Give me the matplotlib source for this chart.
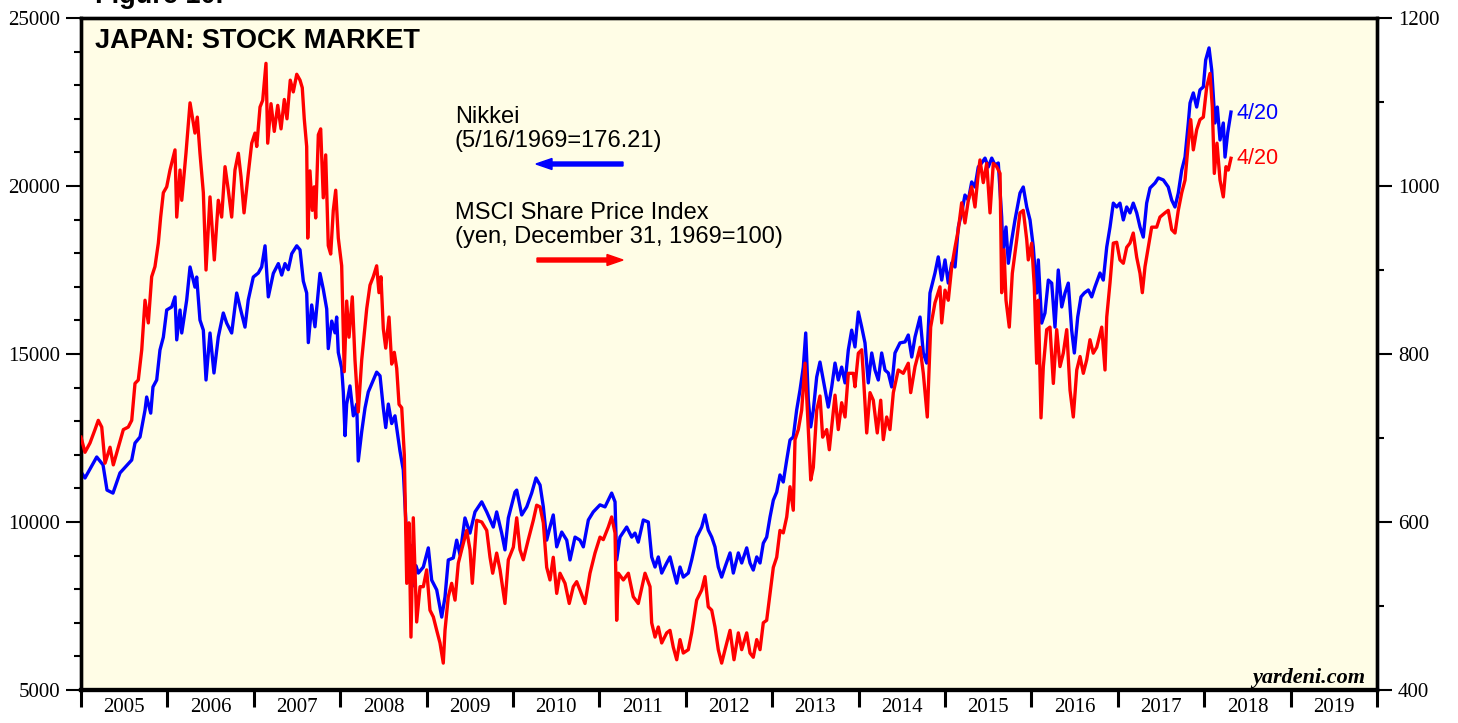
import numpy as np
import matplotlib
matplotlib.use("Agg")
import matplotlib.pyplot as plt
from matplotlib.ticker import MultipleLocator, FixedLocator, NullFormatter

# ---------------- data ----------------
nikkei_t = [
    2005.000, 2005.046, 2005.182, 2005.255, 2005.301, 2005.370, 2005.451, 2005.587, 2005.625, 2005.683,
    2005.741, 2005.760, 2005.807, 2005.833, 2005.876, 2005.914, 2005.953, 2005.992, 2006.050, 2006.088,
    2006.108, 2006.146, 2006.166, 2006.223, 2006.262, 2006.319, 2006.339, 2006.377, 2006.416, 2006.447,
    2006.493, 2006.539, 2006.589, 2006.647, 2006.686, 2006.744, 2006.802, 2006.840, 2006.898, 2006.936,
    2006.994, 2007.052, 2007.091, 2007.130, 2007.168, 2007.226, 2007.284, 2007.323, 2007.361, 2007.399,
    2007.439, 2007.497, 2007.535, 2007.573, 2007.612, 2007.631, 2007.670, 2007.708, 2007.766, 2007.804,
    2007.844, 2007.862, 2007.902, 2007.940, 2007.959, 2007.978, 2008.017, 2008.036, 2008.056, 2008.075,
    2008.113, 2008.152, 2008.191, 2008.209, 2008.249, 2008.287, 2008.325, 2008.365, 2008.422, 2008.461,
    2008.499, 2008.527, 2008.557, 2008.596, 2008.634, 2008.672, 2008.692, 2008.730, 2008.762, 2008.796,
    2008.819, 2008.843, 2008.877, 2008.904, 2008.962, 2009.020, 2009.059, 2009.117, 2009.175, 2009.213,
    2009.251, 2009.309, 2009.348, 2009.387, 2009.444, 2009.502, 2009.560, 2009.638, 2009.696, 2009.772,
    2009.811, 2009.869, 2009.907, 2009.946, 2010.023, 2010.043, 2010.101, 2010.159, 2010.216, 2010.266,
    2010.313, 2010.351, 2010.390, 2010.428, 2010.466, 2010.506, 2010.564, 2010.622, 2010.660, 2010.718,
    2010.775, 2010.814, 2010.872, 2010.929, 2011.007, 2011.065, 2011.142, 2011.181, 2011.200, 2011.238,
    2011.316, 2011.374, 2011.412, 2011.450, 2011.508, 2011.566, 2011.605, 2011.644, 2011.682, 2011.721,
    2011.779, 2011.817, 2011.855, 2011.895, 2011.933, 2011.971, 2012.029, 2012.068, 2012.126, 2012.184,
    2012.222, 2012.260, 2012.300, 2012.338, 2012.376, 2012.415, 2012.454, 2012.512, 2012.550, 2012.608,
    2012.647, 2012.705, 2012.743, 2012.781, 2012.821, 2012.859, 2012.897, 2012.936, 2012.975, 2013.013,
    2013.052, 2013.090, 2013.128, 2013.168, 2013.206, 2013.244, 2013.283, 2013.322, 2013.360, 2013.388,
    2013.418, 2013.446, 2013.476, 2013.515, 2013.553, 2013.591, 2013.649, 2013.689, 2013.727, 2013.765,
    2013.804, 2013.843, 2013.881, 2013.920, 2013.958, 2013.997, 2014.036, 2014.074, 2014.112, 2014.152,
    2014.190, 2014.228, 2014.267, 2014.306, 2014.344, 2014.383, 2014.421, 2014.479, 2014.537, 2014.575,
    2014.615, 2014.653, 2014.711, 2014.749, 2014.788, 2014.826, 2014.884, 2014.922, 2014.962, 2015.000,
    2015.038, 2015.078, 2015.116, 2015.154, 2015.193, 2015.231, 2015.270, 2015.309, 2015.347, 2015.385,
    2015.425, 2015.463, 2015.501, 2015.541, 2015.579, 2015.617, 2015.656, 2015.671, 2015.706, 2015.733,
    2015.772, 2015.810, 2015.868, 2015.906, 2015.946, 2015.984, 2016.022, 2016.061, 2016.080, 2016.119,
    2016.157, 2016.196, 2016.235, 2016.273, 2016.311, 2016.351, 2016.389, 2016.427, 2016.466, 2016.497,
    2016.536, 2016.574, 2016.612, 2016.659, 2016.698, 2016.736, 2016.794, 2016.832, 2016.872, 2016.910,
    2016.948, 2016.987, 2017.025, 2017.064, 2017.103, 2017.141, 2017.179, 2017.219, 2017.257, 2017.295,
    2017.334, 2017.373, 2017.431, 2017.469, 2017.527, 2017.584, 2017.624, 2017.662, 2017.700, 2017.740,
    2017.778, 2017.816, 2017.836, 2017.874, 2017.913, 2017.951, 2017.990, 2018.017, 2018.056, 2018.087,
    2018.125, 2018.152, 2018.183, 2018.221, 2018.241, 2018.272, 2018.310,
]
nikkei = [
    11490, 11310, 11935, 11700, 10950, 10860, 11460, 11845, 12350, 12530,
    13330, 13720, 13240, 14020, 14226, 15120, 15500, 16310, 16400, 16700,
    15420, 16310, 15625, 16600, 17590, 16990, 17290, 16010, 15710, 14226,
    15625, 14435, 15505, 16220, 15920, 15625, 16815, 16400, 15800, 16610,
    17290, 17410, 17590, 18220, 16700, 17400, 17690, 17350, 17690, 17510,
    17985, 18220, 18100, 17170, 16815, 15340, 16460, 15810, 17400, 16930,
    16340, 15160, 15980, 15630, 16100, 15045, 14580, 13870, 12570, 13510,
    14050, 13160, 13510, 11815, 12690, 13390, 13870, 14110, 14460, 14350,
    13390, 12810, 13510, 12930, 13160, 12460, 12110, 11550, 9900, 8400,
    9300, 8100, 8700, 8480, 8660, 9230, 8270, 7980, 7170, 7770,
    8870, 8930, 9460, 9020, 10120, 9670, 10300, 10600, 10300, 9850,
    10300, 9670, 9170, 10120, 10890, 10950, 10210, 10450, 10860, 11310,
    11100, 10450, 9460, 9850, 10210, 9260, 9700, 9460, 8870, 9550,
    9460, 9260, 10060, 10300, 10510, 10450, 10860, 10600, 8870, 9550,
    9850, 9550, 9670, 9400, 10060, 10000, 8960, 8660, 8960, 8480,
    8780, 8960, 8570, 8180, 8660, 8360, 8480, 8870, 9550, 9850,
    10210, 9760, 9550, 9260, 8660, 8360, 8660, 9080, 8480, 9080,
    8780, 9230, 8780, 8570, 8960, 8780, 9370, 9550, 10150, 10650,
    10890, 11400, 11190, 11845, 12440, 12530, 13330, 13930, 14610, 15625,
    13630, 12830, 13330, 14315, 14760, 14226, 13420, 14020, 14730, 14226,
    14610, 14140, 15120, 15710, 15210, 16250, 15800, 15330, 14140, 15030,
    14520, 14226, 15030, 14520, 14435, 14020, 15030, 15330, 15360, 15565,
    14910, 15505, 16100, 15030, 14730, 16815, 17410, 17890, 17200, 17800,
    17110, 17710, 17590, 18780, 19200, 19730, 19580, 20120, 19970, 20565,
    20685, 20830, 20565, 20830, 20625, 20685, 19080, 18000, 18780, 17700,
    18390, 18990, 19790, 19970, 19375, 18990, 18185, 16815, 17800, 15920,
    16220, 17200, 17110, 15800, 17500, 16400, 16815, 17110, 15710, 15030,
    16100, 16700, 16815, 16905, 16700, 17000, 17410, 17200, 18185, 18780,
    19490, 19375, 19490, 18990, 19375, 19200, 19490, 19200, 18780, 18480,
    19490, 19940, 20090, 20240, 20180, 19970, 19580, 19375, 19790, 20475,
    20860, 21875, 22470, 22770, 22350, 22860, 22950, 23750, 24110, 23450,
    21875, 22350, 21370, 21875, 20860, 21580, 22200,
]

msci_t = [
    2005.000, 2005.046, 2005.104, 2005.162, 2005.200, 2005.240, 2005.278, 2005.336, 2005.374, 2005.432,
    2005.490, 2005.547, 2005.587, 2005.625, 2005.663, 2005.703, 2005.741, 2005.779, 2005.818, 2005.856,
    2005.895, 2005.922, 2005.953, 2005.992, 2006.030, 2006.088, 2006.108, 2006.146, 2006.166, 2006.215,
    2006.262, 2006.319, 2006.346, 2006.377, 2006.416, 2006.447, 2006.493, 2006.543, 2006.589, 2006.628,
    2006.667, 2006.705, 2006.744, 2006.782, 2006.821, 2006.852, 2006.887, 2006.936, 2006.976, 2007.014,
    2007.034, 2007.072, 2007.103, 2007.141, 2007.161, 2007.199, 2007.237, 2007.277, 2007.315, 2007.353,
    2007.384, 2007.422, 2007.457, 2007.497, 2007.535, 2007.561, 2007.584, 2007.612, 2007.624, 2007.650,
    2007.677, 2007.700, 2007.716, 2007.747, 2007.774, 2007.804, 2007.832, 2007.862, 2007.890, 2007.920,
    2007.948, 2007.978, 2008.017, 2008.047, 2008.075, 2008.102, 2008.140, 2008.171, 2008.209, 2008.249,
    2008.279, 2008.307, 2008.345, 2008.383, 2008.422, 2008.449, 2008.472, 2008.499, 2008.527, 2008.565,
    2008.596, 2008.626, 2008.654, 2008.681, 2008.712, 2008.742, 2008.770, 2008.796, 2008.819, 2008.846,
    2008.885, 2008.924, 2008.962, 2009.001, 2009.039, 2009.078, 2009.117, 2009.155, 2009.193, 2009.213,
    2009.251, 2009.290, 2009.329, 2009.367, 2009.406, 2009.464, 2009.502, 2009.529, 2009.580, 2009.638,
    2009.696, 2009.734, 2009.765, 2009.811, 2009.850, 2009.907, 2009.946, 2010.004, 2010.043, 2010.081,
    2010.119, 2010.177, 2010.235, 2010.274, 2010.313, 2010.351, 2010.390, 2010.428, 2010.466, 2010.506,
    2010.544, 2010.602, 2010.651, 2010.698, 2010.737, 2010.775, 2010.833, 2010.891, 2010.949, 2011.007,
    2011.045, 2011.103, 2011.142, 2011.181, 2011.200, 2011.219, 2011.277, 2011.335, 2011.392, 2011.450,
    2011.528, 2011.586, 2011.605, 2011.644, 2011.682, 2011.721, 2011.779, 2011.817, 2011.855, 2011.895,
    2011.933, 2011.971, 2012.029, 2012.068, 2012.126, 2012.184, 2012.222, 2012.260, 2012.300, 2012.338,
    2012.376, 2012.415, 2012.454, 2012.512, 2012.558, 2012.608, 2012.647, 2012.705, 2012.743, 2012.781,
    2012.821, 2012.859, 2012.897, 2012.936, 2012.975, 2013.013, 2013.052, 2013.090, 2013.128, 2013.168,
    2013.206, 2013.244, 2013.264, 2013.302, 2013.341, 2013.380, 2013.411, 2013.446, 2013.476, 2013.515,
    2013.553, 2013.584, 2013.631, 2013.661, 2013.727, 2013.765, 2013.804, 2013.843, 2013.881, 2013.939,
    2013.958, 2013.997, 2014.036, 2014.054, 2014.094, 2014.132, 2014.170, 2014.216, 2014.256, 2014.286,
    2014.325, 2014.363, 2014.402, 2014.459, 2014.517, 2014.575, 2014.603, 2014.653, 2014.711, 2014.749,
    2014.795, 2014.834, 2014.884, 2014.942, 2014.962, 2015.000, 2015.038, 2015.078, 2015.116, 2015.154,
    2015.193, 2015.231, 2015.270, 2015.309, 2015.347, 2015.385, 2015.405, 2015.443, 2015.483, 2015.521,
    2015.559, 2015.598, 2015.637, 2015.656, 2015.683, 2015.706, 2015.744, 2015.779, 2015.830, 2015.868,
    2015.906, 2015.946, 2015.964, 2016.003, 2016.034, 2016.061, 2016.080, 2016.111, 2016.138, 2016.177,
    2016.215, 2016.254, 2016.293, 2016.331, 2016.369, 2016.409, 2016.447, 2016.485, 2016.525, 2016.563,
    2016.601, 2016.640, 2016.678, 2016.716, 2016.756, 2016.814, 2016.852, 2016.872, 2016.910, 2016.948,
    2016.987, 2017.025, 2017.064, 2017.103, 2017.141, 2017.179, 2017.219, 2017.257, 2017.284, 2017.315,
    2017.353, 2017.392, 2017.450, 2017.488, 2017.546, 2017.584, 2017.624, 2017.662, 2017.700, 2017.740,
    2017.778, 2017.816, 2017.844, 2017.874, 2017.913, 2017.951, 2017.990, 2018.029, 2018.067, 2018.094,
    2018.117, 2018.148, 2018.183, 2018.221, 2018.252, 2018.279, 2018.310,
]
msci = [
    701, 683, 694, 710, 721, 713, 670, 689, 668, 689,
    710, 713, 721, 765, 769, 805, 864, 837, 892, 904,
    932, 963, 992, 999, 1019, 1043, 963, 1019, 983, 1039,
    1099, 1063, 1082, 1039, 992, 900, 987, 912, 983, 963,
    1023, 995, 963, 1019, 1039, 1011, 968, 1015, 1051, 1063,
    1047, 1094, 1102, 1146, 1051, 1098, 1065, 1096, 1068, 1103,
    1080, 1126, 1112, 1133, 1126, 1117, 1080, 1047, 938, 1018,
    971, 999, 962, 1061, 1068, 986, 1037, 929, 919, 971,
    995, 938, 905, 779, 863, 820, 868, 793, 731, 793,
    825, 854, 882, 892, 905, 873, 892, 830, 807, 844,
    788, 802, 783, 740, 736, 680, 527, 599, 463, 605,
    481, 523, 523, 543, 495, 487, 471, 456, 432, 471,
    511, 527, 507, 551, 567, 590, 567, 527, 602, 600,
    590, 558, 539, 563, 543, 503, 555, 570, 605, 567,
    555, 579, 602, 620, 618, 599, 546, 531, 558, 515,
    539, 527, 503, 523, 529, 519, 503, 539, 563, 582,
    579, 594, 606, 587, 483, 539, 531, 539, 511, 503,
    539, 523, 480, 463, 475, 456, 468, 471, 451, 436,
    460, 444, 448, 468, 507, 519, 535, 499, 495, 475,
    448, 432, 448, 471, 436, 468, 448, 468, 444, 439,
    460, 448, 480, 483, 515, 546, 558, 590, 587, 606,
    642, 614, 698, 710, 733, 789, 725, 650, 665, 733,
    750, 701, 710, 686, 751, 710, 742, 725, 777, 777,
    761, 801, 805, 777, 706, 754, 745, 706, 745, 698,
    725, 710, 754, 781, 777, 789, 754, 785, 808, 777,
    725, 832, 861, 880, 837, 876, 864, 904, 927, 948,
    980, 956, 983, 999, 975, 1015, 1031, 1004, 1027, 968,
    1027, 1023, 1015, 873, 924, 864, 832, 896, 936, 968,
    971, 936, 912, 932, 880, 789, 864, 724, 785, 829,
    832, 765, 829, 785, 801, 829, 757, 725, 781, 797,
    777, 793, 817, 801, 808, 832, 781, 844, 885, 932,
    933, 912, 908, 927, 932, 944, 915, 896, 873, 904,
    927, 951, 951, 963, 968, 971, 948, 944, 971, 992,
    1007, 1051, 1079, 1043, 1067, 1079, 1082, 1118, 1134, 1094,
    1015, 1051, 1007, 987, 1023, 1019, 1033,
]

years = list(range(2005, 2020))
year_labels = [str(y) for y in years]
title = "JAPAN: STOCK MARKET"
nikkei_label = "Nikkei\n(5/16/1969=176.21)"
msci_label = "MSCI Share Price Index\n(yen, December 31, 1969=100)"
end_label = "4/20"

# ---------------- figure ----------------
BLUE = "#0000ff"
RED = "#ff0000"
W, H = 1458, 723
fig = plt.figure(figsize=(W / 100, H / 100), dpi=100)
fig.patch.set_facecolor("white")
ax = fig.add_axes([81 / W, 1 - 690 / H, (1377 - 81) / W, (690 - 18) / H])
ax.set_facecolor("#fffde6")
ax2 = ax.twinx()

serif = ["Liberation Serif", "DejaVu Serif"]
sans = ["Liberation Sans", "DejaVu Sans"]

ax.plot(nikkei_t, nikkei, color=BLUE, lw=2.4, solid_joinstyle="round", zorder=3)
ax2.plot(msci_t, msci, color=RED, lw=2.4, solid_joinstyle="round", zorder=3)

ax.set_xlim(2005, 2020)
ax.set_ylim(5000, 25000)
ax2.set_ylim(400, 1200)

for a in (ax, ax2):
    for s in a.spines.values():
        s.set_linewidth(2.4)
        s.set_color("black")
ax.spines["bottom"].set_linewidth(3.0)
ax2.spines["bottom"].set_linewidth(3.0)

# left axis
ax.yaxis.set_major_locator(MultipleLocator(5000))
ax.yaxis.set_minor_locator(MultipleLocator(1000))
ax.tick_params(axis="y", which="major", direction="out", length=11, width=1.5,
               pad=4, labelsize=15)
ax.tick_params(axis="y", which="minor", direction="out", length=5, width=1.5)
for lab in ax.get_yticklabels():
    lab.set_family(serif)

# right axis
ax2.yaxis.set_major_locator(MultipleLocator(200))
ax2.yaxis.set_minor_locator(MultipleLocator(100))
ax2.tick_params(axis="y", which="major", direction="out", length=11, width=1.5,
                pad=4, labelsize=15)
ax2.tick_params(axis="y", which="minor", direction="out", length=5, width=1.5)
for lab in ax2.get_yticklabels():
    lab.set_family(serif)

# x axis: ticks at year boundaries, labels centred between
ax.xaxis.set_major_locator(FixedLocator(list(range(2005, 2021))))
ax.xaxis.set_major_formatter(NullFormatter())
ax.xaxis.set_minor_locator(FixedLocator([y + 0.5 for y in years]))
ax.set_xticklabels(year_labels, minor=True)
ax.tick_params(axis="x", which="major", direction="out", length=12, width=2.2)
ax.tick_params(axis="x", which="minor", length=0, pad=6, labelsize=15)
for lab in ax.get_xticklabels(minor=True):
    lab.set_family(serif)

# title and annotations
fig.text(95 / W, 1 - 48 / H, title, fontsize=19.5, fontweight="bold",
         family=sans, ha="left", va="baseline")
fig.text(95 / W, 1 - 3 / H, "Figure 10.", fontsize=19.5, fontweight="bold",
         family=sans, ha="left", va="baseline")

fig.text(455 / W, 1 - 147 / H, nikkei_label, fontsize=17, family=sans,
         ha="left", va="baseline", linespacing=1.1)
fig.text(455 / W, 1 - 243 / H, msci_label, fontsize=17, family=sans,
         ha="left", va="baseline", linespacing=1.1)

# arrows (figure-pixel positions)
fig.patches.append(matplotlib.patches.FancyArrow(
    623 / W, 1 - 164 / H, -(623 - 536) / W, 0, width=4 / H, head_width=11 / H,
    head_length=16 / W, length_includes_head=True, color=BLUE,
    transform=fig.transFigure, figure=fig))
fig.patches.append(matplotlib.patches.FancyArrow(
    537 / W, 1 - 260 / H, (623 - 537) / W, 0, width=4 / H, head_width=11 / H,
    head_length=16 / W, length_includes_head=True, color=RED,
    transform=fig.transFigure, figure=fig))

# end labels
ax.annotate(end_label, xy=(nikkei_t[-1], nikkei[-1]), xytext=(4, -1),
            textcoords="offset points", color=BLUE, fontsize=15.5, family=sans,
            ha="left", va="center")
ax2.annotate(end_label, xy=(msci_t[-1], msci[-1]), xytext=(4, 0),
             textcoords="offset points", color=RED, fontsize=15.5, family=sans,
             ha="left", va="center")

fig.text(1365 / W, 1 - 683 / H, "yardeni.com", fontsize=16, fontweight="bold",
         fontstyle="italic", family=serif, ha="right", va="baseline")

fig.savefig("out.png", dpi=100, facecolor="white")
